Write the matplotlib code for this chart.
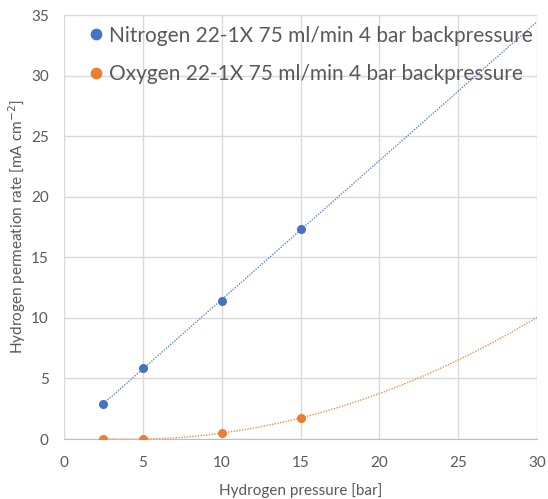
import matplotlib
matplotlib.use('Agg')
import matplotlib.pyplot as plt
import numpy as np

# measured permeation rates
pressure_bar = [2.5, 5, 10, 15]
nitrogen_rate = [2.9, 5.85, 11.4, 17.3]
oxygen_rate = [0.01, 0.02, 0.47, 1.75]

nitrogen_label = "Nitrogen 22-1X 75 ml/min 4 bar backpressure"
oxygen_label = "Oxygen 22-1X 75 ml/min 4 bar backpressure"

blue = "#4472C4"
orange = "#ED7D31"
grey_text = "#595959"
grid_col = "#D9D9D9"

plt.rcParams['font.family'] = ['Lato', 'DejaVu Sans']

fig = plt.figure(figsize=(5.48, 4.99), dpi=100)
ax = fig.add_axes([0.1168, 0.1202, 0.8632, 0.8497])

# trendlines: linear for nitrogen, quadratic for oxygen
xs = np.linspace(pressure_bar[0], 30, 200)
lin = np.polyfit(pressure_bar, nitrogen_rate, 1)
quad = np.polyfit(pressure_bar, oxygen_rate, 2)
ax.plot(xs, np.polyval(lin, xs), linestyle=(0, (1, 1)), color=blue, lw=1.0, alpha=0.85, zorder=2)
ax.plot(xs, np.polyval(quad, xs), linestyle=(0, (1, 1)), color=orange, lw=1.0, alpha=0.85, zorder=2)

ax.plot(pressure_bar, nitrogen_rate, 'o', color=blue, ms=5.5, label=nitrogen_label, zorder=3)
ax.plot(pressure_bar, oxygen_rate, 'o', color=orange, ms=5.5, label=oxygen_label, zorder=3)

ax.set_xlim(0, 30)
ax.set_ylim(0, 35)
ax.set_xticks(range(0, 31, 5))
ax.set_yticks(range(0, 36, 5))
ax.grid(True, color=grid_col, lw=1.0)
ax.set_axisbelow(True)
for side in ['top', 'right', 'left']:
    ax.spines[side].set_visible(False)
ax.spines['bottom'].set_color('#BFBFBF')
ax.tick_params(length=0, colors=grey_text, labelsize=11)
ax.tick_params(axis='x', pad=12)
ax.tick_params(axis='y', pad=11)

ax.set_xlabel("Hydrogen pressure [bar]", color=grey_text, fontsize=11)
ax.set_ylabel("Hydrogen permeation rate [mA cm$^{-2}$]", color=grey_text, fontsize=11)
ax.xaxis.set_label_coords(0.5, -0.105)
ax.yaxis.set_label_coords(-0.076, 0.5)

leg = ax.legend(loc='upper left', bbox_to_anchor=(0.055, 0.975), frameon=False,
                fontsize=15, handlelength=0.6, handletextpad=0.3, labelspacing=0.88,
                borderaxespad=0, borderpad=0, markerscale=1.35)
for t in leg.get_texts():
    t.set_color(grey_text)

fig.savefig("out.png", dpi=100)
